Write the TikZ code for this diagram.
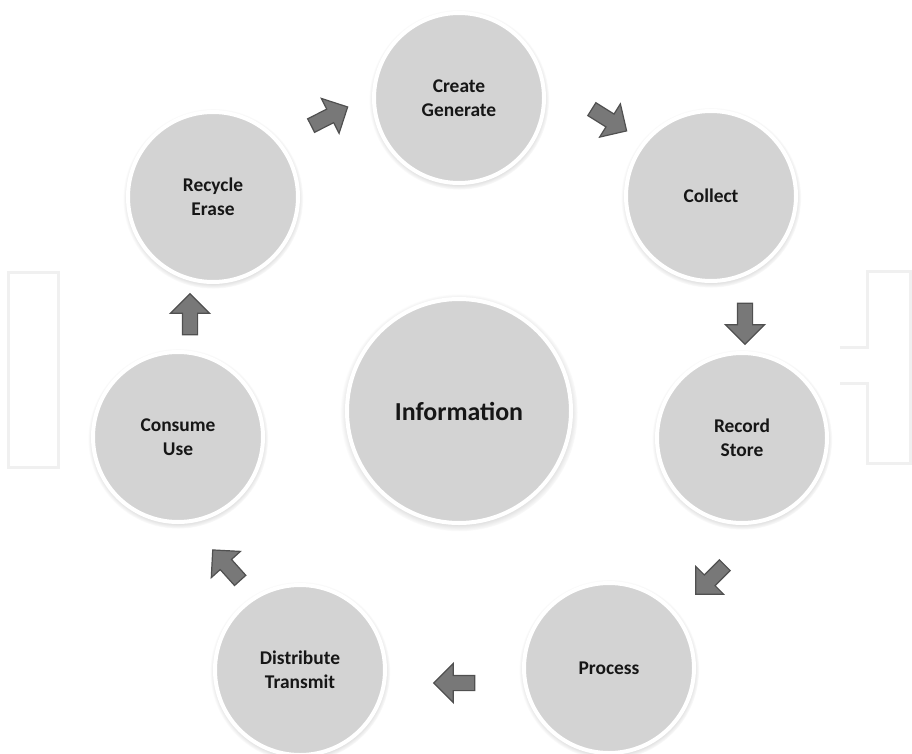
\documentclass[tikz,border=0pt]{standalone}
\usepackage{fontspec}
\setmainfont{Carlito}
\usetikzlibrary{shapes.arrows,shadows}
\definecolor{ballc}{HTML}{D3D3D3}
\definecolor{ballrim}{HTML}{ADADAD}
\definecolor{arrowfill}{HTML}{787878}
\definecolor{arrowline}{HTML}{505050}
\definecolor{txt}{HTML}{161616}
\definecolor{wm}{HTML}{F0F0F0}
\pgfdeclareradialshading{ballshade}{\pgfpoint{0bp}{0bp}}{color(0bp)=(ballc); color(41bp)=(ballc); color(47bp)=(ballc!70!ballrim); color(50bp)=(ballrim)}
\begin{document}
\begin{tikzpicture}[x=1bp,y=-1bp,
  stage/.style={circle, minimum size=170bp, inner sep=0pt, draw=white, line width=4bp,
    shading=ballshade,
    circular drop shadow={shadow xshift=0bp, shadow yshift=-1.5bp, shadow scale=1.06, opacity=0.6},
    align=center, font=\bfseries\fontsize{19.5}{24}\selectfont, text=txt},
  hub/.style={stage, minimum size=224bp, font=\bfseries\fontsize{26}{30}\selectfont},
  flow/.style={single arrow, draw=arrowline, fill=arrowfill, line width=1.2bp,
    minimum height=41bp, inner sep=7bp, single arrow head extend=12bp,
    single arrow tip angle=90}
]
\useasboundingbox (0,0) rectangle (912,754);
% faint background outlines
\draw[wm, line width=3bp] (8,272) rectangle (58,467);
\draw[wm, line width=3bp] (840,347) -- (867,347) -- (867,271) -- (910,271) -- (910,463) -- (867,463) -- (867,383) -- (840,383);

% circles
\node[hub]   (info)    at (459,411) {Information};
\node[stage] (create)  at (459,98)  {Create\\Generate};
\node[stage] (collect) at (711,196) {Collect};
\node[stage] (record)  at (742,438) {Record\\Store};
\node[stage] (process) at (609,668) {Process};
\node[stage] (distrib) at (300,670) {Distribute\\Transmit};
\node[stage] (consume) at (178,437) {Consume\\Use};
\node[stage] (recycle) at (213,197) {Recycle\\Erase};

% block arrows
\node[flow, rotate=27]   (a1) at (326,118) {};
\node[flow, rotate=-32]  (a2) at (606,118) {};
\node[flow, rotate=-90]  (a3) at (745,320) {};
\node[flow, rotate=-135] (a4) at (713,577) {};
\node[flow, rotate=180]  (a5) at (458,683) {};
\node[flow, rotate=132]  (a6) at (229,568) {};
\node[flow, rotate=90]   (a7) at (190,318) {};
\end{tikzpicture}
\end{document}
